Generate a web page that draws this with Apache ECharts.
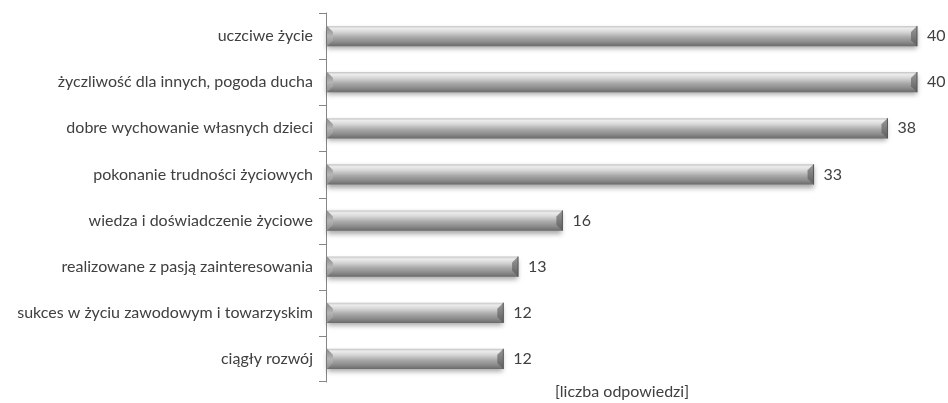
<!DOCTYPE html>
<html>
<head>
<meta charset="utf-8">
<script src="https://cdn.jsdelivr.net/npm/echarts@6/dist/echarts.min.js"></script>
<style>
  html, body { margin: 0; padding: 0; background: #ffffff; }
  #chart { width: 948px; height: 403px; }
</style>
</head>
<body>
<div id="chart"></div>
<script>
// Categories listed bottom-to-top (ECharts category y-axis starts at the bottom)
const categories = [
  'ciągły rozwój',
  'sukces w życiu zawodowym i towarzyskim',
  'realizowane z pasją zainteresowania',
  'wiedza i doświadczenie życiowe',
  'pokonanie trudności życiowych',
  'dobre wychowanie własnych dzieci',
  'życzliwość dla innych, pogoda ducha',
  'uczciwe życie'
];
const answers = [12, 12, 13, 16, 33, 38, 40, 40];
const axisTitle = '[liczba odpowiedzi]';

const FONT = 'Lato, "Noto Sans", sans-serif';
const TEXT = '#404040';
const AXIS = '#868686';

// Bevelled grey bar with a soft drop shadow, value label and category tick
function renderBar(params, api) {
  const v = api.value(1);
  const idx = api.value(0);
  const start = api.coord([0, idx]);
  const end = api.coord([v, idx]);
  const band = api.size([0, 1])[1];
  const h = band * 0.44;
  const x0 = start[0] + 1, x1 = end[0];
  const top = end[1] - h / 2, bot = end[1] + h / 2;
  const b = Math.min(6, h / 3);
  const bodyGrad = new echarts.graphic.LinearGradient(0, 0, 0, 1, [
    { offset: 0, color: '#c4c4c4' },
    { offset: 0.12, color: '#ececec' },
    { offset: 0.3, color: '#d6d6d6' },
    { offset: 0.55, color: '#aaaaaa' },
    { offset: 0.8, color: '#8a8a8a' },
    { offset: 1, color: '#6a6a6a' }
  ]);
  const children = [
    {
      type: 'rect',
      shape: { x: x0, y: top, width: x1 - x0, height: h },
      style: {
        fill: bodyGrad,
        shadowBlur: 5,
        shadowOffsetY: 3,
        shadowColor: 'rgba(0,0,0,0.35)'
      }
    },
    {
      // left bevel facet
      type: 'polygon',
      shape: { points: [[x0, top], [x0 + b, top + b], [x0 + b, bot - b], [x0, bot]] },
      style: {
        fill: new echarts.graphic.LinearGradient(0, 0, 0, 1, [
          { offset: 0, color: '#8a8a8a' },
          { offset: 0.5, color: '#b5b5b5' },
          { offset: 1, color: '#8d8d8d' }
        ])
      }
    },
    {
      // right bevel facet
      type: 'polygon',
      shape: { points: [[x1 - b, top + b], [x1, top], [x1, bot], [x1 - b, bot - b]] },
      style: {
        fill: new echarts.graphic.LinearGradient(0, 0, 0, 1, [
          { offset: 0, color: '#9a9a9a' },
          { offset: 1, color: '#5e5e5e' }
        ])
      }
    },
    {
      type: 'line',
      shape: { x1: x1, y1: top, x2: x1, y2: bot },
      style: { stroke: '#555555', lineWidth: 1 }
    },
    {
      type: 'text',
      style: {
        x: x1 + 10,
        y: end[1],
        text: String(v),
        fill: TEXT,
        font: '16px ' + FONT,
        verticalAlign: 'middle',
        align: 'left'
      }
    },
    {
      // tick on the band boundary above this category
      type: 'line',
      shape: { x1: start[0] - 7, y1: Math.round(end[1] - band / 2) + 0.5, x2: start[0], y2: Math.round(end[1] - band / 2) + 0.5 },
      style: { stroke: AXIS, lineWidth: 1 }
    }
  ];
  if (idx === 0) {
    children.push({
      type: 'line',
      shape: { x1: start[0] - 7, y1: Math.round(end[1] + band / 2) - 0.5, x2: start[0], y2: Math.round(end[1] + band / 2) - 0.5 },
      style: { stroke: AXIS, lineWidth: 1 }
    });
  }
  return { type: 'group', children: children };
}

const chart = echarts.init(document.getElementById('chart'), null, { renderer: 'canvas' });
chart.setOption({
  backgroundColor: '#ffffff',
  animation: false,
  grid: { left: 326, right: 31, top: 13, bottom: 21 },
  xAxis: {
    type: 'value',
    min: 0,
    max: 40,
    show: false
  },
  yAxis: {
    type: 'category',
    data: categories,
    axisLine: { show: true, lineStyle: { color: AXIS, width: 1 } },
    axisTick: { show: false },
    axisLabel: {
      color: TEXT,
      fontFamily: FONT,
      fontSize: 16,
      margin: 13
    }
  },
  graphic: [{
    type: 'text',
    x: 622,
    y: 392,
    style: {
      text: axisTitle,
      fill: TEXT,
      font: '16px ' + FONT,
      align: 'center',
      verticalAlign: 'middle'
    }
  }],
  series: [{
    type: 'custom',
    renderItem: renderBar,
    clip: false,
    encode: { x: 1, y: 0 },
    data: answers.map((v, i) => [i, v])
  }]
});
</script>
</body>
</html>
